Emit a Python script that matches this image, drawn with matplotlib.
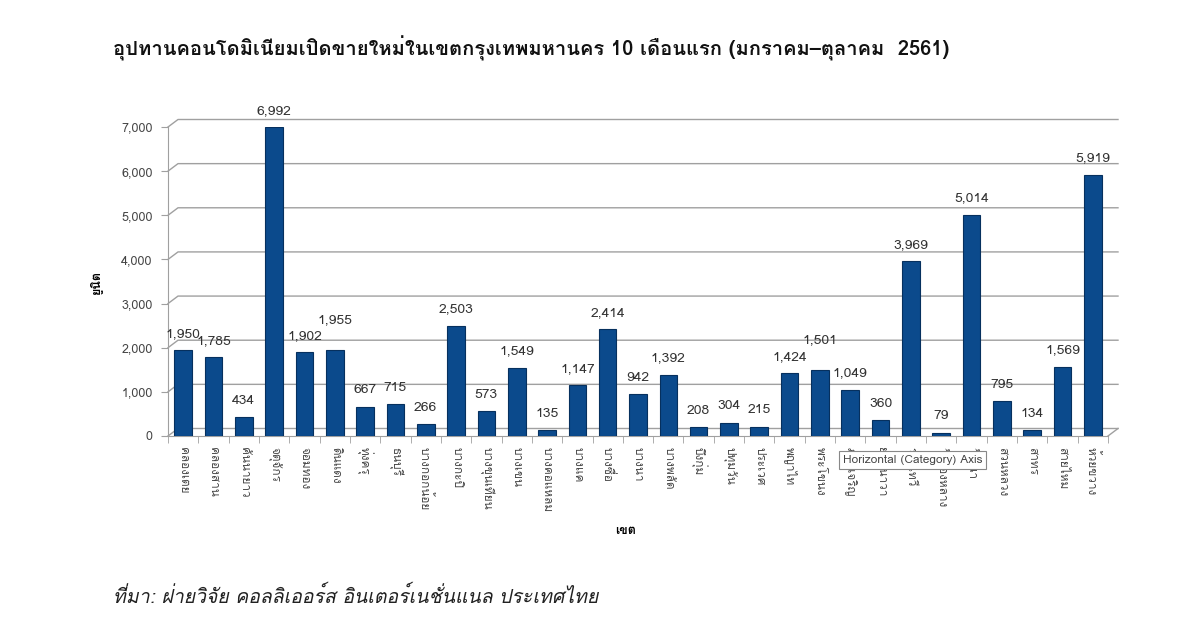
import matplotlib
matplotlib.use("Agg")
import matplotlib.pyplot as plt
from matplotlib import font_manager
from fontTools.ttLib import TTFont

# ข้อมูล
districts = ["คลองเตย", "คลองสาน", "คันนายาว", "จตุจักร", "จอมทอง", "ดินแดง", "ทุ่งครุ",
             "ธนบุรี", "บางกอกน้อย", "บางกะปิ", "บางขุนเทียน", "บางเขน", "บางคอแหลม",
             "บางแค", "บางซื่อ", "บางนา", "บางพลัด", "บึงกุ่ม", "ปทุมวัน", "ประเวศ",
             "พญาไท", "พระโขนง", "ภาษีเจริญ", "ยานนาวา", "ราชเทวี", "วังทองหลาง",
             "วัฒนา", "สวนหลวง", "สาทร", "สายไหม", "ห้วยขวาง"]
units = [1950, 1785, 434, 6992, 1902, 1955, 667, 715, 266, 2503, 573, 1549, 135,
         1147, 2414, 942, 1392, 208, 304, 215, 1424, 1501, 1049, 360, 3969, 79,
         5014, 795, 134, 1569, 5919]
yticks = [0, 1000, 2000, 3000, 4000, 5000, 6000, 7000]

title = "อุปทานคอนโดมิเนียมเปิดขายใหม่ในเขตกรุงเทพมหานคร 10 เดือนแรก (มกราคม–ตุลาคม  2561)"
source = "ที่มา: ฝ่ายวิจัย คอลลิเออร์ส อินเตอร์เนชั่นแนล ประเทศไทย"

# หาฟอนต์ที่มีอักษรไทย
thai_font = None
for f in font_manager.fontManager.ttflist:
    try:
        cmap = TTFont(f.fname, fontNumber=0, lazy=True).getBestCmap()
        if cmap and 0x0E01 in cmap:
            thai_font = f.name
            break
    except Exception:
        pass
families = ([thai_font] if thai_font else []) + ["DejaVu Sans"]
plt.rcParams['font.family'] = families

fig = plt.figure(figsize=(12, 6.28), dpi=100)
ax = fig.add_axes([168 / 1200, 1 - 436 / 628, (1108 - 168) / 1200, (436 - 127) / 628])

n = len(units)
x = list(range(n))
ax.set_xlim(-0.5, n - 0.5)
ax.set_ylim(0, 7000)

# เส้นกริดแบบ 3D
dx, dy = 0.33, 170
grid_c = "#a0a0a0"
for yv in yticks:
    ax.plot([-0.5, -0.5 + dx, n - 0.5 + dx], [yv, yv + dy, yv + dy],
            color=grid_c, lw=1, clip_on=False, zorder=1)
ax.plot([n - 0.5, n - 0.5 + dx], [0, dy], color=grid_c, lw=1, clip_on=False, zorder=1)

ax.bar(x, units, width=0.58, color="#0b4a8c", edgecolor="#06305e", lw=0.8, zorder=3)

# ป้ายค่า: ยกขึ้นเล็กน้อยถ้าป้ายยาว (4 หลัก) ชนกับป้ายข้างๆ
raised = False
for i, v in enumerate(units):
    off = 230
    if (i > 0 and v >= 1000 and units[i - 1] >= 1000
            and abs(v - units[i - 1]) < 150 and not raised):
        off += 300
        raised = True
    else:
        raised = False
    ax.text(i, v + off, f"{v:,}", ha="center", va="bottom", fontsize=10,
            color="#333333", zorder=4)

for s in ["top", "right"]:
    ax.spines[s].set_visible(False)
for s in ["left", "bottom"]:
    ax.spines[s].set_color(grid_c)

ax.set_yticks(yticks)
ax.set_yticklabels([f"{v:,}" for v in yticks], fontsize=9, color="#444444")
ax.tick_params(axis="y", length=5, color=grid_c, pad=6)

ax.set_xticks([i - 0.5 for i in range(n + 1)], minor=True)
ax.tick_params(axis="x", which="minor", length=5, color=grid_c, direction="out")
ax.set_xticks(x)
ax.set_xticklabels(districts, rotation=-90, fontsize=8.5, color="#444444", va="top")
ax.tick_params(axis="x", which="major", length=0, pad=8)

ax.set_ylabel("ยูนิต", fontsize=9, fontweight="bold", labelpad=14)
fig.text(626 / 1200, 1 - 531 / 628, "เขต", fontsize=9, fontweight="bold",
         ha="center", va="center")

fig.text(113 / 1200, 1 - 48 / 628, title, fontsize=14.5, fontweight="bold",
         ha="left", va="center", color="#111111")
fig.text(113 / 1200, 1 - 596 / 628, source, fontsize=14, style="italic",
         ha="left", va="center", color="#222222")

# กล่องข้อความจากภาพต้นฉบับ
fig.text(843 / 1200, 1 - 460 / 628, "Horizontal (Category) Axis", fontsize=8.5,
         color="#444444", ha="left", va="center", zorder=5,
         bbox=dict(boxstyle="square,pad=0.3", fc="white", ec="#888888", lw=0.8))

fig.savefig("out.png", dpi=100)
